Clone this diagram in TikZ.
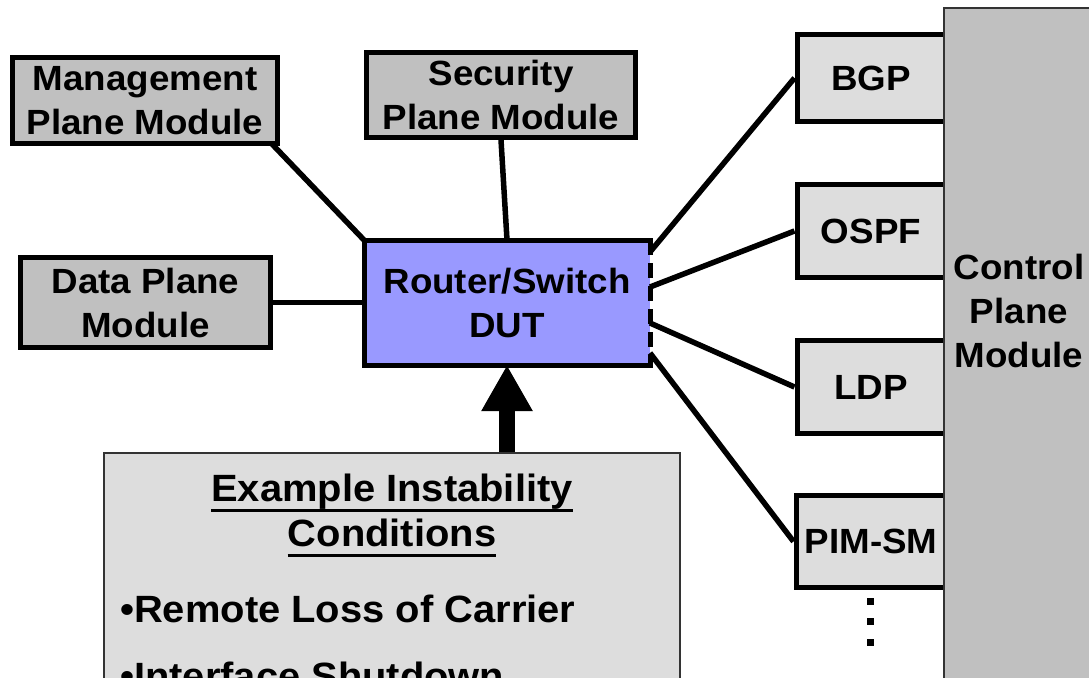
\documentclass[tikz,border=0pt]{standalone}
\usepackage{fontspec}
\setmainfont{Liberation Sans}[FakeStretch=1.05]
\usetikzlibrary{arrows.meta}
\definecolor{silver}{HTML}{C0C0C0}
\definecolor{lightgr}{HTML}{DDDDDD}
\definecolor{lavender}{HTML}{9999FF}
\definecolor{edgegray}{HTML}{333333}

\begin{document}
\begin{tikzpicture}[x=1pt,y=-1pt,
  boxtext/.style={font=\bfseries\fontsize{35}{44}\selectfont, align=center, inner sep=0pt},
  listtext/.style={font=\bfseries\fontsize{38}{46}\selectfont, inner sep=0pt},
  module/.style={rectangle, draw=black, line width=5pt, fill=silver, boxtext},
  proto/.style={module, fill=lightgr},
  panel/.style={rectangle, draw=edgegray, line width=1.5pt, inner sep=0pt},
  link/.style={line width=5.5pt},
  border/.style={line width=5pt},
  dotmark/.style={rectangle, fill=black, inner sep=0pt, minimum size=7pt}
]
\useasboundingbox (0,0) rectangle (1089,677);
\clip (0,0) rectangle (1089,677);

% side modules
\node[module, minimum width=265pt, minimum height=86pt] (mgmt) at (145,100.5) {Management\\Plane Module};
\node[module, minimum width=269pt, minimum height=85pt] (sec) at (501,95) {Security\\Plane Module};
\node[module, minimum width=250pt, minimum height=90pt] (data) at (145.5,302.5) {Data Plane\\Module};

% protocol boxes
\node[proto, minimum width=148pt, minimum height=87pt] (bgp) at (871,78) {BGP};
\node[proto, minimum width=148pt, minimum height=93pt] (ospf) at (871,231) {OSPF};
\node[proto, minimum width=148pt, minimum height=93pt] (ldp) at (871,387) {LDP};
\node[proto, minimum width=150pt, minimum height=92pt] (pim) at (871,541.5) {PIM-SM};

% continuation dots
\node[dotmark] (d1) at (870.5,601.5) {};
\node[dotmark] (d2) at (870.5,621.5) {};
\node[dotmark] (d3) at (870.5,642.5) {};

% control plane panel
\node[panel, fill=silver, minimum width=160pt, minimum height=700pt] (ctrl) at (1024,358) {};
\node[boxtext] (ctrltext) at (1019,311) {Control\\Plane\\Module};

% device under test
\node[rectangle, fill=lavender, outer sep=0pt, minimum width=286pt, minimum height=125pt, boxtext] (dut) at (507,302.5) {Router/Switch\\DUT};

% connectors
\draw[link] ([xshift=-8pt,yshift=2pt]mgmt.south east) -- (dut.north west);
\draw[link] (sec.south) -- (dut.north);
\draw[link] (data.east) -- (dut.west);
\draw[link] ([yshift=50.5pt]dut.east) -- (bgp.west);
\draw[link] ([yshift=15.5pt]dut.east) -- (ospf.west);
\draw[link] ([yshift=-20.5pt]dut.east) -- (ldp.west);
\draw[link] ([yshift=-50.5pt]dut.east) -- (pim.west);

% DUT border, dashed on the protocol side
\draw[border, line cap=rect] (dut.north east) -- (dut.north west) -- (dut.south west) -- (dut.south east);
\draw[border, dash pattern=on 15pt off 8pt] (dut.north east) -- (dut.south east);

% instability conditions panel
\node[panel, fill=lightgr, minimum width=576pt, minimum height=267pt] (ex) at (392,586.5) {};
\node[listtext, anchor=base] (h1) at (392,501) {Example Instability};
\draw[line width=3pt] ([yshift=-9pt]h1.base west) -- ([yshift=-9pt]h1.base east);
\node[listtext, anchor=base] (h2) at (392,546) {Conditions};
\draw[line width=3pt] ([yshift=-9pt]h2.base west) -- ([yshift=-9pt]h2.base east);
\node[listtext, anchor=base west] (b1) at (120,622) {•Remote Loss of Carrier};
\node[listtext, anchor=base west] (b2) at (120,689) {•Interface Shutdown};

% stimulus arrow
\draw[line width=16pt, -{Triangle[width=48pt,length=46pt]}] (dut.south |- ex.north) -- (dut.south);
\end{tikzpicture}
\end{document}
